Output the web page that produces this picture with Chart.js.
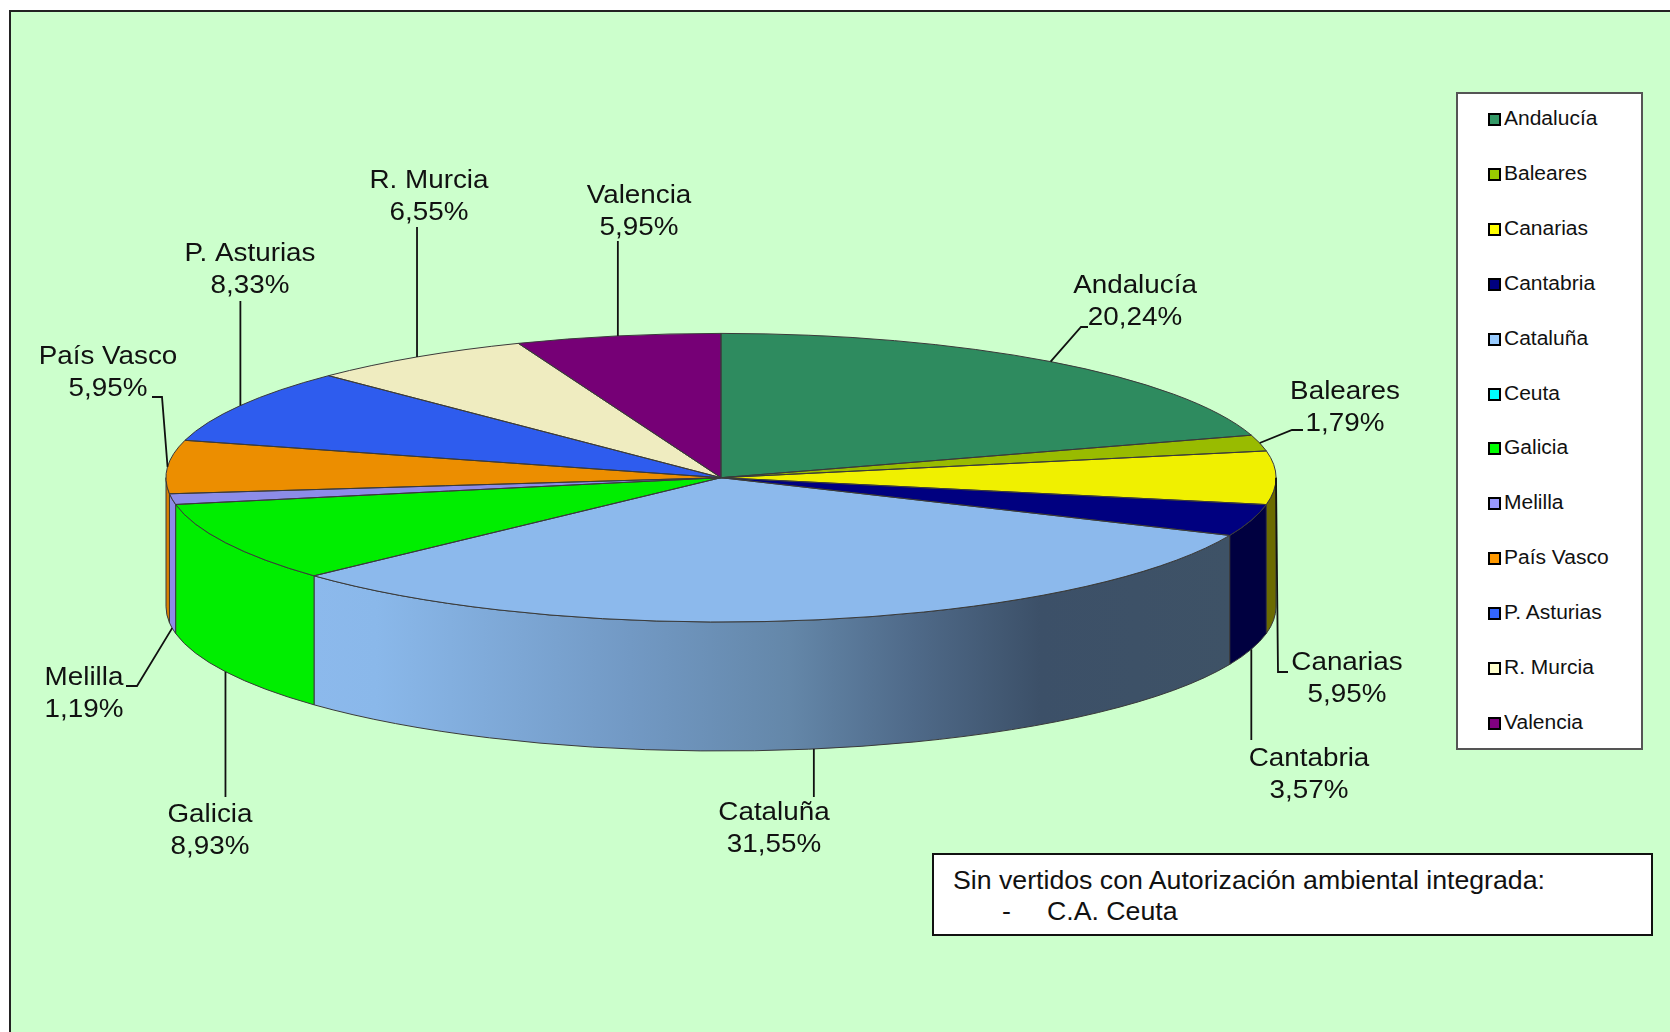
<!DOCTYPE html>
<html>
<head>
<meta charset="utf-8">
<title>Autorización ambiental integrada</title>
<script src="https://cdn.jsdelivr.net/npm/chart.js@4"></script>
<style>
    html, body { margin: 0; padding: 0; background: #fff; overflow: hidden; }
    #wrap { position: relative; width: 1670px; height: 1032px; font-family: "Liberation Sans", Arial, sans-serif; color: #111; }
    canvas { position: absolute; left: 0; top: 0; }
    #legend { position: absolute; left: 1456px; top: 92px; width: 183px; height: 654px; background: #fff; border: 2px solid #555; }
    #legend .item { position: absolute; left: 30px; height: 24px; line-height: 24px; font-size: 20px; white-space: nowrap; }
    #legend .box { position: absolute; left: 0; top: 6px; width: 9px; height: 9px; border: 2px solid #000; }
    #legend .txt { position: absolute; left: 16px; top: -1px; transform: scaleX(1.05); transform-origin: left center; }
    #note { position: absolute; left: 932px; top: 853px; width: 717px; height: 79px; background: #fff; border: 2px solid #111; font-size: 26.7px; }
    #note span { position: absolute; white-space: nowrap; line-height: 30px; }
</style>
</head>
<body>
<div id="wrap">
    <canvas id="chart" width="1670" height="1032"></canvas>
    <div id="legend"></div>
    <div id="note">
        <span style="left:19px;top:10px">Sin vertidos con Autorización ambiental integrada:</span>
        <span style="left:68px;top:41px">-</span>
        <span style="left:113px;top:41px">C.A. Ceuta</span>
    </div>
</div>
<script>
const regions = ['Andalucía', 'Baleares', 'Canarias', 'Cantabria', 'Cataluña', 'Ceuta', 'Galicia', 'Melilla', 'País Vasco', 'P. Asturias', 'R. Murcia', 'Valencia'];
const shares = [20.24, 1.79, 5.95, 3.57, 31.55, 0, 8.93, 1.19, 5.95, 8.33, 6.55, 5.95];
const legendColors = ['#339966', '#99CC00', '#FFFF00', '#000080', '#99CCFF', '#00FFFF', '#00FF00', '#9999FF', '#FF9900', '#3366FF', '#FFFFCC', '#800080'];
const topColors = ['#2E8B5F', '#99BB00', '#F0F000', '#000080', '#8CB9EC', '#00EEEE', '#00EE00', '#8C8CE8', '#EC8E00', '#2E5CEE', '#EFECC0', '#760076'];
const wallColors = ['#1F5F40', '#5F7800', '#6B6B00', '#000040', null, '#009999', '#00EE00', '#8C8CE8', '#D88000', '#1F3FA0', '#A0A080', '#500050'];

// pie geometry on the page
const centerX = 721, centerY = 477.7, radiusX = 555, radiusY = 144.3, wallDepth = 129;

// label centres and the bends of the leader lines, a null x drops straight from the rim
const labelLayout = {
    'Andalucía':   { x: 1135, y: 286, bends: [[1081, 327], [1088, 327]] },
    'Baleares':    { x: 1345, y: 392, bends: [[1292, 430], [1303, 430]] },
    'Canarias':    { x: 1347, y: 663, bends: [[1278, 672], [1288, 672]] },
    'Cantabria':   { x: 1309, y: 759, bends: [[null, 740]] },
    'Cataluña':    { x: 774,  y: 813, bends: [[null, 797]] },
    'Galicia':     { x: 210,  y: 815, bends: [[null, 797]] },
    'Melilla':     { x: 84,   y: 678, bends: [[137, 686], [126, 686]] },
    'País Vasco':  { x: 108,  y: 357, bends: [[162, 397], [152, 397]] },
    'P. Asturias': { x: 250,  y: 254, bends: [[null, 301]] },
    'R. Murcia':   { x: 429,  y: 181, bends: [[null, 227]] },
    'Valencia':    { x: 639,  y: 196, bends: [[null, 241]] }
};

function formatShare(v) {
    return v.toFixed(2).replace('.', ',') + '%';
}

function drawStretched(ctx, text, x, y, stretch) {
    ctx.save();
    ctx.translate(x, y);
    ctx.scale(stretch, 1);
    ctx.fillText(text, 0, 0);
    ctx.restore();
}

const backgroundPlugin = {
    id: 'background',
    beforeDraw(chart) {
        const ctx = chart.ctx;
        ctx.save();
        ctx.fillStyle = '#CCFFCC';
        ctx.fillRect(10, 11, 1660, 1021);
        ctx.fillStyle = '#222';
        ctx.fillRect(9, 10, 1661, 2);
        ctx.fillRect(9, 10, 2, 1022);
        ctx.restore();
    }
};

// Chart.js only does round pies, so the top is squashed and the rim drawn by hand
const tiltPlugin = {
    id: 'tilt',
    beforeDatasetsDraw(chart) {
        const ctx = chart.ctx;
        const arcs = chart.getDatasetMeta(0).data;

        const gradient = ctx.createLinearGradient(312, 0, 1230, 0);
        gradient.addColorStop(0, '#8CB9EC');
        gradient.addColorStop(0.07, '#8AB8EA');
        gradient.addColorStop(0.347, '#7299C4');
        gradient.addColorStop(0.52, '#6487A9');
        gradient.addColorStop(0.654, '#4F6A89');
        gradient.addColorStop(0.793, '#3C5068');
        gradient.addColorStop(1, '#3E5266');

        ctx.save();
        ctx.strokeStyle = '#3a3a3a';
        ctx.lineWidth = 1;
        arcs.forEach((arc, i) => {
            const a0 = Math.max(arc.startAngle, 0);
            const a1 = Math.min(arc.endAngle, Math.PI);
            if (a1 <= a0) return;
            ctx.beginPath();
            ctx.ellipse(centerX, centerY, radiusX, radiusY, 0, a0, a1);
            ctx.ellipse(centerX, centerY + wallDepth, radiusX, radiusY, 0, a1, a0, true);
            ctx.closePath();
            ctx.fillStyle = wallColors[i] || gradient;
            ctx.fill();
            ctx.stroke();
        });
        ctx.restore();

        const first = arcs[0];
        ctx.save();
        ctx.translate(centerX, centerY);
        ctx.scale(radiusX / first.outerRadius, radiusY / first.outerRadius);
        ctx.translate(-first.x, -first.y);
    },
    afterDatasetsDraw(chart) {
        const ctx = chart.ctx;
        ctx.restore();

        // slice edges are stroked here so the tilt does not squash the line width
        ctx.save();
        ctx.strokeStyle = '#3a3a3a';
        ctx.lineWidth = 1;
        chart.getDatasetMeta(0).data.forEach(arc => {
            if (arc.endAngle <= arc.startAngle) return;
            ctx.beginPath();
            ctx.moveTo(centerX, centerY);
            ctx.ellipse(centerX, centerY, radiusX, radiusY, 0, arc.startAngle, arc.endAngle);
            ctx.closePath();
            ctx.stroke();
        });
        ctx.restore();
    },
    afterDraw(chart) {
        const ctx = chart.ctx;
        ctx.save();
        ctx.font = '26px "Liberation Sans", Arial, sans-serif';
        ctx.textAlign = 'center';
        ctx.textBaseline = 'middle';
        chart.getDatasetMeta(0).data.forEach((arc, i) => {
            const layout = labelLayout[regions[i]];
            if (!layout) return;

            // leader starts on the rim, at the middle angle of the slice
            const mid = (arc.startAngle + arc.endAngle) / 2;
            const front = Math.sin(mid) > 0.05;
            const rimX = centerX + radiusX * Math.cos(mid);
            ctx.beginPath();
            ctx.moveTo(rimX, centerY + radiusY * Math.sin(mid) + (front ? wallDepth : 0));
            layout.bends.forEach(p => ctx.lineTo(p[0] === null ? rimX : p[0], p[1]));
            ctx.strokeStyle = '#111';
            ctx.lineWidth = 1.8;
            ctx.stroke();

            ctx.fillStyle = '#111';
            drawStretched(ctx, regions[i], layout.x, layout.y, 1.07);
            drawStretched(ctx, formatShare(shares[i]), layout.x, layout.y + 32, 1.07);
        });
        ctx.restore();
    }
};

new Chart(document.getElementById('chart'), {
    type: 'pie',
    data: {
        labels: regions,
        datasets: [{
            data: shares,
            backgroundColor: topColors,
            borderWidth: 0,
            clip: false
        }]
    },
    options: {
        responsive: false,
        animation: false,
        events: [],
        radius: radiusX,
        plugins: {
            legend: { display: false },
            tooltip: { enabled: false }
        }
    },
    plugins: [backgroundPlugin, tiltPlugin]
});

// legend is plain html, the gap between box and text is too tight for the built-in one
const legendEl = document.getElementById('legend');
regions.forEach((name, i) => {
    const item = document.createElement('div');
    item.className = 'item';
    item.style.top = (13 + i * 54.9) + 'px';
    item.innerHTML = `<span class="box" style="background:${legendColors[i]}"></span><span class="txt">${name}</span>`;
    legendEl.appendChild(item);
});
</script>
</body>
</html>
